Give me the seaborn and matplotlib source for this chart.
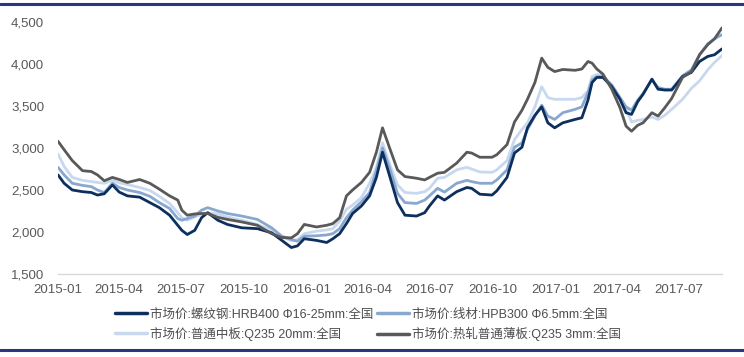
import numpy as np
import pandas as pd
import matplotlib
matplotlib.use("Agg")
import matplotlib.pyplot as plt
import matplotlib.dates as mdates
import matplotlib.ticker as mticker
from matplotlib.lines import Line2D
import seaborn as sns

DATES = [
    "2015-01-01", "2015-01-10", "2015-01-22", "2015-02-06", "2015-02-19", "2015-02-28",
    "2015-03-10", "2015-03-22", "2015-04-01", "2015-04-13", "2015-05-01", "2015-05-16",
    "2015-05-30", "2015-06-14", "2015-06-26", "2015-07-02", "2015-07-10", "2015-07-21",
    "2015-07-31", "2015-08-09", "2015-08-24", "2015-09-07", "2015-09-28", "2015-10-21",
    "2015-11-11", "2015-11-26", "2015-12-10", "2015-12-19", "2015-12-29", "2016-01-16",
    "2016-01-31", "2016-02-09", "2016-02-19", "2016-02-29", "2016-03-09", "2016-03-22",
    "2016-04-03", "2016-04-13", "2016-04-22", "2016-05-02", "2016-05-14", "2016-05-25",
    "2016-06-11", "2016-06-23", "2016-06-30", "2016-07-12", "2016-07-22", "2016-08-09",
    "2016-08-24", "2016-08-31", "2016-09-12", "2016-09-30", "2016-10-07", "2016-10-22",
    "2016-11-02", "2016-11-13", "2016-11-21", "2016-12-02", "2016-12-12", "2016-12-21",
    "2016-12-31", "2017-01-12", "2017-01-30", "2017-02-09", "2017-02-18", "2017-02-24",
    "2017-03-03", "2017-03-12", "2017-03-25", "2017-04-06", "2017-04-15", "2017-04-23",
    "2017-05-02", "2017-05-10", "2017-05-23", "2017-06-01", "2017-06-11", "2017-06-21",
    "2017-07-07", "2017-07-20", "2017-08-01", "2017-08-13", "2017-08-23", "2017-09-03",
]

# 市场价:螺纹钢:HRB400 Φ16-25mm:全国
rebar = [
    2680, 2580, 2500, 2480, 2470, 2440, 2455, 2560, 2475, 2430, 2415, 2350,
    2290, 2200, 2080, 2020, 1970, 2020, 2170, 2230, 2140, 2090, 2050, 2040,
    1990, 1900, 1815, 1835, 1920, 1900, 1875, 1920, 1980, 2100, 2220, 2310,
    2430, 2650, 2950, 2680, 2350, 2200, 2190, 2230, 2310, 2430, 2380, 2480,
    2530, 2520, 2450, 2440, 2490, 2650, 2940, 3010, 3240, 3390, 3490, 3300,
    3240, 3300, 3340, 3360, 3570, 3780, 3840, 3840, 3730, 3580, 3420, 3400,
    3550, 3640, 3820, 3700, 3690, 3690, 3850, 3900, 4030, 4090, 4110, 4180,
]
# 市场价:线材:HPB300 Φ6.5mm:全国
wire = [
    2770, 2680, 2580, 2555, 2540, 2500, 2470, 2580, 2530, 2500, 2470, 2425,
    2350, 2280, 2160, 2140, 2160, 2190, 2260, 2290, 2250, 2220, 2190, 2150,
    2050, 1950, 1910, 1890, 1950, 1955, 1965, 1980, 2040, 2170, 2260, 2360,
    2470, 2730, 3000, 2770, 2460, 2350, 2340, 2380, 2430, 2520, 2475, 2580,
    2615, 2600, 2580, 2580, 2620, 2740, 3010, 3060, 3220, 3380, 3510, 3380,
    3340, 3420, 3460, 3490, 3660, 3810, 3850, 3850, 3750, 3600, 3490, 3450,
    3570, 3650, 3815, 3720, 3700, 3700, 3860, 3930, 4110, 4240, 4300, 4350,
]
# 市场价:普通中板:Q235 20mm:全国
plate = [
    2930, 2780, 2650, 2615, 2600, 2590, 2580, 2615, 2585, 2565, 2530, 2495,
    2425, 2340, 2230, 2170, 2140, 2180, 2210, 2230, 2215, 2180, 2140, 2090,
    2020, 1940, 1900, 1905, 1980, 2010, 2025, 2040, 2130, 2270, 2320, 2410,
    2580, 2770, 3060, 2820, 2560, 2470, 2460, 2480, 2520, 2640, 2650, 2740,
    2770, 2750, 2715, 2710, 2740, 2850, 3100, 3220, 3300, 3490, 3730, 3600,
    3580, 3580, 3580, 3600, 3680, 3850, 3875, 3860, 3750, 3600, 3470, 3310,
    3330, 3340, 3370, 3340, 3390, 3460, 3580, 3710, 3800, 3930, 4020, 4100,
]
# 市场价:热轧普通薄板:Q235 3mm:全国
sheet = [
    3080, 2980, 2850, 2730, 2720, 2680, 2610, 2650, 2625, 2590, 2625, 2580,
    2510, 2430, 2380, 2260, 2200, 2215, 2220, 2220, 2175, 2150, 2120, 2080,
    1980, 1935, 1930, 1980, 2090, 2060, 2080, 2100, 2170, 2430, 2500, 2590,
    2710, 2950, 3240, 3010, 2740, 2660, 2640, 2620, 2650, 2700, 2710, 2820,
    2950, 2940, 2890, 2890, 2920, 3040, 3310, 3450, 3580, 3780, 4070, 3960,
    3910, 3935, 3925, 3940, 4030, 4010, 3940, 3880, 3700, 3480, 3260, 3200,
    3270, 3300, 3420, 3380, 3480, 3590, 3840, 3910, 4110, 4230, 4300, 4430,
]

LABELS = [
    "市场价:螺纹钢:HRB400 Φ16-25mm:全国",
    "市场价:线材:HPB300 Φ6.5mm:全国",
    "市场价:普通中板:Q235 20mm:全国",
    "市场价:热轧普通薄板:Q235 3mm:全国",
]
COLORS = ["#0d2f5e", "#88a8d0", "#c8d8ee", "#595959"]

sns.set_style("white")
plt.rcParams["font.family"] = ["Liberation Sans", "Noto Sans CJK SC", "DejaVu Sans"]

dates = pd.to_datetime(DATES)
df = pd.DataFrame({
    "date": np.tile(dates, 4),
    "value": rebar + wire + plate + sheet,
    "series": np.repeat(LABELS, len(dates)),
})

fig = plt.figure(figsize=(7.44, 3.57), dpi=100)
ax = fig.add_axes([58 / 744, 1 - 274 / 357, (722 - 58) / 744, (274 - 22) / 357])

# draw light lines first so the darker ones stay on top
draw_order = [2, 1, 0, 3]
for i in draw_order:
    sns.lineplot(data=df[df["series"] == LABELS[i]], x="date", y="value",
                 color=COLORS[i], linewidth=2.0, ax=ax, label=LABELS[i], legend=False)

ax.set_xlim(pd.Timestamp("2015-01-01"), pd.Timestamp("2017-09-03"))
ax.set_ylim(1500, 4500)
ax.set_xlabel("")
ax.set_ylabel("")

ticks = pd.date_range("2015-01-01", "2017-07-01", freq="QS")
ax.set_xticks(ticks)
ax.xaxis.set_major_formatter(mdates.DateFormatter("%Y-%m"))
ax.yaxis.set_major_locator(mticker.MultipleLocator(500))
ax.yaxis.set_major_formatter(mticker.StrMethodFormatter("{x:,.0f}"))

for s in ["top", "right", "left"]:
    ax.spines[s].set_visible(False)
ax.spines["bottom"].set_color("#d9d9d9")
ax.spines["bottom"].set_linewidth(1.0)
ax.tick_params(axis="x", length=4, color="#d9d9d9", labelsize=9.5, labelcolor="#595959", pad=3)
ax.tick_params(axis="y", length=0, labelsize=9.5, labelcolor="#595959", pad=10)
ax.grid(False)

handles = [Line2D([0], [0], color=c, linewidth=2.5) for c in COLORS]
order = [0, 2, 1, 3]
fig.legend([handles[i] for i in order], [LABELS[i] for i in order],
           ncol=2, loc="upper left", bbox_to_anchor=(109 / 744, 1 - 302 / 357),
           frameon=False, fontsize=9.0, handlelength=2.5, handletextpad=0.25,
           columnspacing=0.35, labelspacing=0.5, borderpad=0, labelcolor="#4d4d4d")

# report frame lines
fig.add_artist(Line2D([0, 1], [1 - 4 / 357, 1 - 4 / 357], color="#2b3584", linewidth=2.2))
fig.add_artist(Line2D([0, 1], [1 - 350 / 357, 1 - 350 / 357], color="#2b3584", linewidth=2.2))

fig.savefig("out.png", dpi=100)
